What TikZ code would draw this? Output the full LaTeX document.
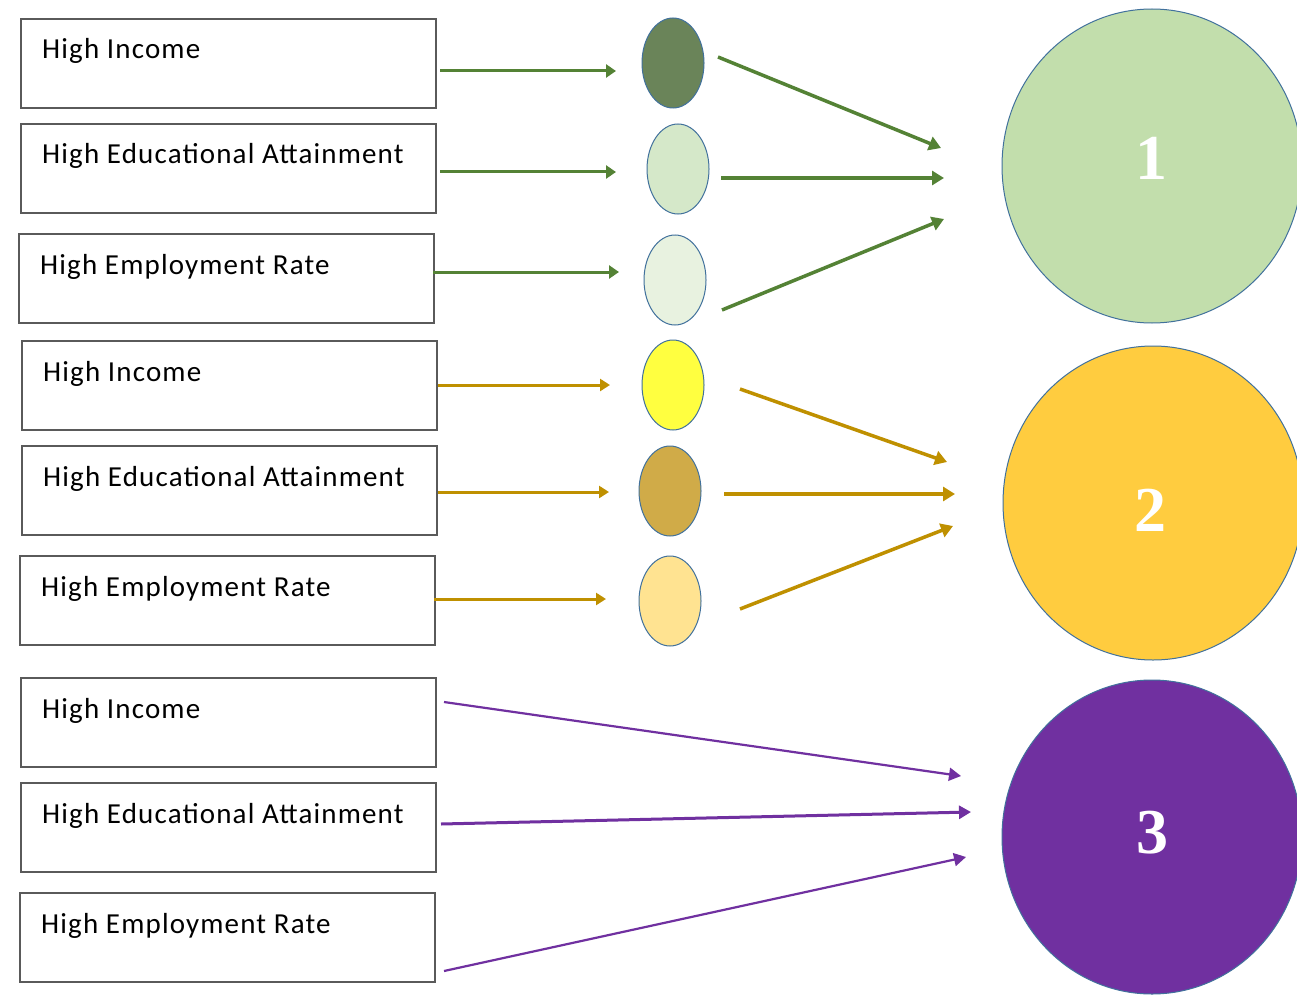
\documentclass[tikz,border=0pt]{standalone}
\usepackage{fontspec}
\setmainfont{Carlito}
\newfontfamily\lblfont[LetterSpace=4]{Carlito}
\newfontfamily\numfont{Liberation Serif}
\usetikzlibrary{arrows.meta,calc,shapes.geometric}
\definecolor{boxgray}{HTML}{5A5A5A}
\definecolor{edgeblue}{HTML}{41719C}
\definecolor{agreen}{HTML}{548235}
\definecolor{agold}{HTML}{BF9000}
\definecolor{apurple}{HTML}{7030A0}
\definecolor{gA}{HTML}{6A8459}
\definecolor{gB}{HTML}{D5E8C9}
\definecolor{gC}{HTML}{E8F2E0}
\definecolor{yA}{HTML}{FFFF40}
\definecolor{yB}{HTML}{D0AB48}
\definecolor{yC}{HTML}{FFE391}
\definecolor{cA}{HTML}{C2DEAC}
\definecolor{cB}{HTML}{FFCC3F}
\definecolor{cC}{HTML}{7030A0}
\tikzset{
  box/.style={draw=boxgray, line width=1.8, fill=white, rectangle, minimum width=415, minimum height=89, anchor=north west, inner sep=0},
  lbl/.style={anchor=base west, inner sep=0, text=black, font=\lblfont\fontsize{29}{32}\selectfont},
  oval/.style={ellipse, draw=edgeblue, line width=1, minimum width=62, minimum height=90, inner sep=0},
  bigc/.style={ellipse, draw=edgeblue, line width=1, minimum width=300, minimum height=314, inner sep=0},
  num/.style={inner sep=0, text=white, font=\numfont\bfseries\fontsize{64}{70}\selectfont},
  garr/.style={draw=agreen, line width=3, -{Triangle[length=10,width=13]}},
  garrb/.style={draw=agreen, line width=3.5, -{Triangle[length=12,width=14]}},
  yarr/.style={draw=agold, line width=3, -{Triangle[length=10,width=12]}},
  yarrb/.style={draw=agold, line width=3.5, -{Triangle[length=12,width=14]}},
  parr/.style={draw=apurple, line width=2.2, -{Triangle[length=12,width=13]}},
}
\begin{document}
\begin{tikzpicture}[x=1pt, y=-1pt]
\clip (0,0) rectangle (1297,995);
\fill[white] (0,0) rectangle (1297,995);
% boxes
\node[box] (b1) at (20,18) {};
\node[box] (b2) at (20,123) {};
\node[box] (b3) at (18,233) {};
\node[box] (b4) at (21,340) {};
\node[box] (b5) at (21,445) {};
\node[box] (b6) at (19,555) {};
\node[box] (b7) at (20,677) {};
\node[box] (b8) at (20,782) {};
\node[box] (b9) at (19,892) {};
\node[lbl] (t1) at ($(b1.north west)+(22,41)$) {High Income};
\node[lbl] (t2) at ($(b2.north west)+(22,41)$) {High Educational Attainment};
\node[lbl] (t3) at ($(b3.north west)+(22,41)$) {High Employment Rate};
\node[lbl] (t4) at ($(b4.north west)+(22,41)$) {High Income};
\node[lbl] (t5) at ($(b5.north west)+(22,41)$) {High Educational Attainment};
\node[lbl] (t6) at ($(b6.north west)+(22,41)$) {High Employment Rate};
\node[lbl] (t7) at ($(b7.north west)+(22,41)$) {High Income};
\node[lbl] (t8) at ($(b8.north west)+(22,41)$) {High Educational Attainment};
\node[lbl] (t9) at ($(b9.north west)+(22,41)$) {High Employment Rate};
% small ovals
\node[oval, fill=gA] (e1) at (673,63) {};
\node[oval, fill=gB] (e2) at (678,169) {};
\node[oval, fill=gC] (e3) at (675,280) {};
\node[oval, fill=yA] (e4) at (673,385) {};
\node[oval, fill=yB] (e5) at (670,491) {};
\node[oval, fill=yC] (e6) at (670,601) {};
% big circles
\node[bigc, fill=cA] (c1) at (1152,166) {};
\node[bigc, fill=cB] (c2) at (1153,503) {};
\node[bigc, fill=cC] (c3) at (1152,837) {};
\node[num] (n1) at (1151,158) {1};
\node[num] (n2) at (1150,510) {2};
\node[num] (n3) at (1152,833) {3};
% coordinates
\coordinate (s1) at (440,71);  \coordinate (f1) at (616,71);
\coordinate (s2) at (440,172); \coordinate (f2) at (616,172);
\coordinate (s3) at (433,272); \coordinate (f3) at (619,272);
\coordinate (s4) at (438,385); \coordinate (f4) at (610,385);
\coordinate (s5) at (438,492); \coordinate (f5) at (609,492);
\coordinate (s6) at (434,599); \coordinate (f6) at (606,599);
\coordinate (u1) at (718,57);  \coordinate (v1) at (941,148);
\coordinate (u2) at (721,178); \coordinate (v2) at (944,178);
\coordinate (u3) at (722,310); \coordinate (v3) at (944,219);
\coordinate (u4) at (740,389); \coordinate (v4) at (947,462);
\coordinate (u5) at (724,494); \coordinate (v5) at (955,494);
\coordinate (u6) at (740,609); \coordinate (v6) at (953,526);
\coordinate (p1) at (444,702); \coordinate (q1) at (961,776);
\coordinate (p2) at (441,824); \coordinate (q2) at (971,812);
\coordinate (p3) at (444,971); \coordinate (q3) at (966,857);
% arrows
\draw[garr] (s1) -- (f1);
\draw[garr] (s2) -- (f2);
\draw[garr] (s3) -- (f3);
\draw[yarr] (s4) -- (f4);
\draw[yarr] (s5) -- (f5);
\draw[yarr] (s6) -- (f6);
\draw[garrb] (u1) -- (v1);
\draw[garrb] (u2) -- (v2);
\draw[garrb] (u3) -- (v3);
\draw[yarrb] (u4) -- (v4);
\draw[yarrb] (u5) -- (v5);
\draw[yarrb] (u6) -- (v6);
\draw[parr] (p1) -- (q1);
\draw[parr, line width=3] (p2) -- (q2);
\draw[parr] (p3) -- (q3);
\end{tikzpicture}
\end{document}
